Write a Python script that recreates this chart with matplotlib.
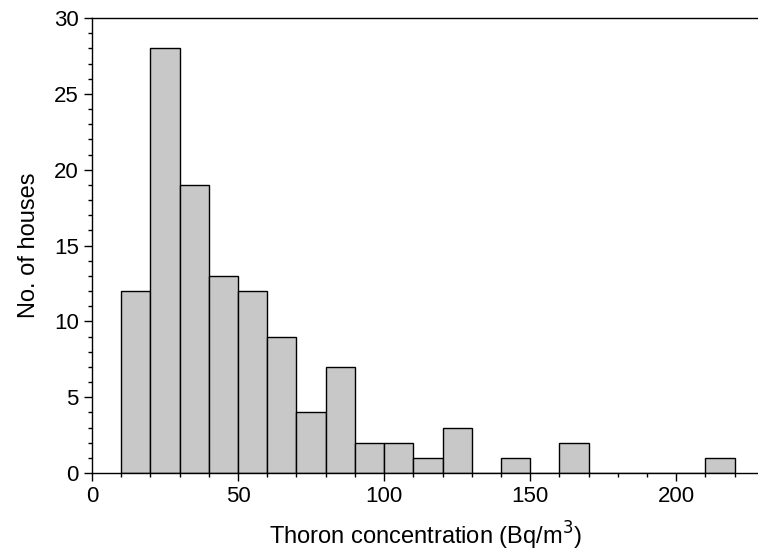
import numpy as np
import matplotlib.pyplot as plt
from matplotlib.ticker import MultipleLocator

plt.rcParams['font.family'] = ['Liberation Sans', 'DejaVu Sans']

# histogram bin edges (Bq/m3) and counts
bin_left = [10, 20, 30, 40, 50, 60, 70, 80, 90, 100, 110, 120, 130, 140, 150, 160,
            170, 180, 190, 200, 210]
counts = [12, 28, 19, 13, 12, 9, 4, 7, 2, 2, 1, 3, 0, 1, 0, 2, 0, 0, 0, 0, 1]
bin_width = 10

fig = plt.figure(figsize=(7.58, 5.54), dpi=100)
ax = fig.add_axes([0.1214, 0.146, 0.8786, 0.8215])

ax.bar(bin_left, counts, width=bin_width, align='edge',
       color='#c8c8c8', edgecolor='black', linewidth=1.0)

ax.set_xlim(0, 228)
ax.set_ylim(0, 30)
ax.xaxis.set_major_locator(MultipleLocator(50))
ax.xaxis.set_minor_locator(MultipleLocator(10))
ax.yaxis.set_major_locator(MultipleLocator(5))
ax.yaxis.set_minor_locator(MultipleLocator(1))
ax.tick_params(which='major', direction='out', length=6, width=1, labelsize=16)
ax.tick_params(which='minor', direction='out', length=3, width=1)
ax.spines['right'].set_visible(False)
for s in ['left', 'bottom', 'top']:
    ax.spines[s].set_linewidth(1)

ax.set_xlabel('Thoron concentration (Bq/m$^3$)', fontsize=17, labelpad=9)
ax.set_ylabel('No. of houses', fontsize=17, labelpad=10)

fig.savefig('out.png', dpi=100)
